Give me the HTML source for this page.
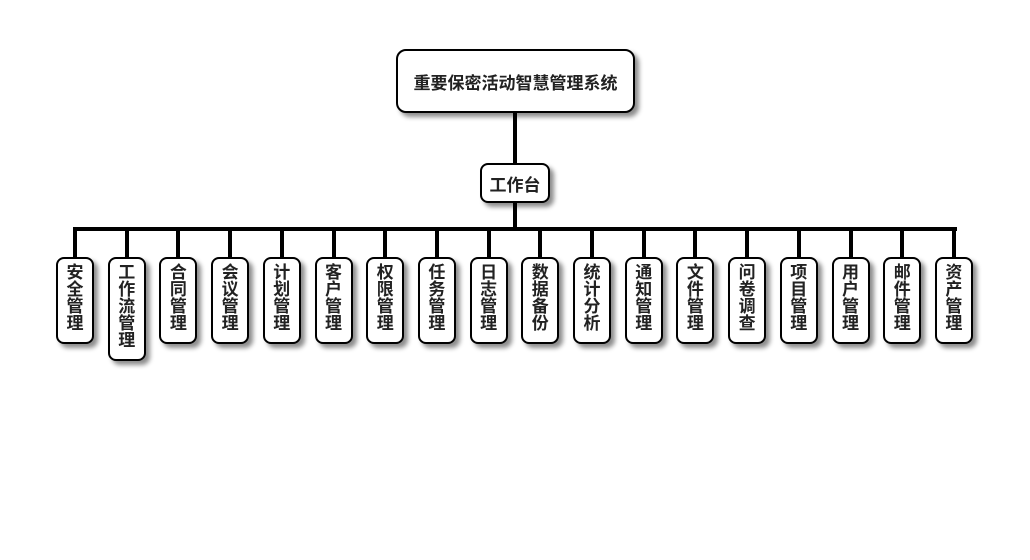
<!DOCTYPE html>
<html><head><meta charset="utf-8"><style>
body{margin:0;width:1030px;height:560px;background:#fff;position:relative;overflow:hidden;font-family:"Liberation Sans","Noto Sans CJK SC",sans-serif;}
.b{position:absolute;background:#fff;border:2px solid #000;border-radius:8px;box-sizing:border-box;box-shadow:4px 4px 5px rgba(0,0,0,0.45);font-weight:bold;color:#222;display:flex;align-items:center;justify-content:center;text-align:center;}
.l{position:absolute;background:#000;}
.c{width:38px;top:257px;font-size:17px;line-height:17px;padding-top:5px;align-items:flex-start;}
</style></head><body>
<div class="l" style="left:513px;top:112px;width:4px;height:52px"></div>
<div class="l" style="left:513px;top:201px;width:4px;height:29px"></div>
<div class="l" style="left:73px;top:227px;width:884px;height:4px"></div>
<div class="b" style="left:396px;top:49px;width:239px;height:64px;font-size:17px;border-radius:10px">重要保密活动智慧管理系统</div>
<div class="b" style="left:480px;top:163px;width:70px;height:40px;font-size:17px">工作台</div>
<div id="k"></div>
<script>
var n=["安全管理","工作流管理","合同管理","会议管理","计划管理","客户管理","权限管理","任务管理","日志管理","数据备份","统计分析","通知管理","文件管理","问卷调查","项目管理","用户管理","邮件管理","资产管理"];
var h="";
n.forEach(function(t,i){var cx=75+i*51.7;
h+='<div class="l" style="left:'+(cx-2)+'px;top:229px;width:4px;height:29px"></div>';
h+='<div class="b c" style="left:'+(cx-19)+'px;height:'+(t.length==5?104:87)+'px">'+t.split("").join("<br>")+'</div>';});
document.getElementById("k").innerHTML=h;
</script>
</body></html>
